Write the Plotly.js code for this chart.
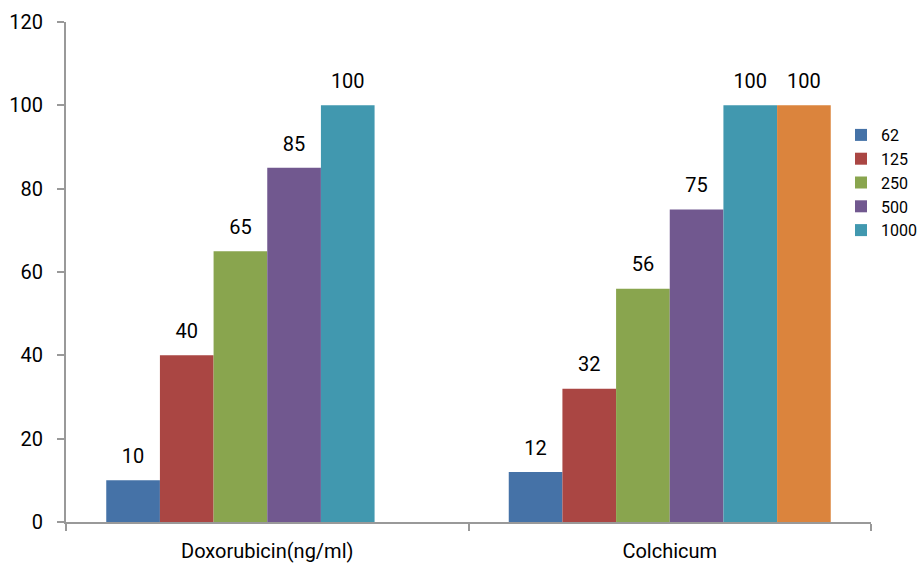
<!DOCTYPE html>
<html>
<head>
<meta charset="utf-8">
<script src="https://cdn.plot.ly/plotly-3.0.1.min.js"></script>
<style>
  html, body { margin: 0; padding: 0; background: #fff; }
  #chart { width: 921px; height: 563px; }
</style>
</head>
<body>
<div id="chart"></div>
<script>
// Treatment groups on the x axis
const categories = ['Doxorubicin(ng/ml)', 'Colchicum'];

// Concentration series (one bar per concentration in each group)
const seriesNames = ['62', '125', '250', '500', '1000', '2000'];
const values62   = [10, 12];
const values125  = [40, 32];
const values250  = [65, 56];
const values500  = [85, 75];
const values1000 = [100, 100];
const values2000 = [null, 100];

const seriesValues = [values62, values125, values250, values500, values1000, values2000];
const seriesColors = ['#4572A7', '#AA4643', '#89A54E', '#71588F', '#4198AF', '#DB843D'];
const inLegend = [true, true, true, true, true, false];

const FONT = 'Roboto, "Liberation Sans", sans-serif';

// Bars
const barTraces = seriesValues.map((vals, i) => ({
  type: 'bar',
  name: seriesNames[i],
  x: categories,
  y: vals,
  offsetgroup: String(i),
  legendgroup: 'g' + i,
  marker: { color: seriesColors[i], line: { width: 0 } },
  showlegend: inLegend[i],
  hoverinfo: 'x+y+name'
}));

// Value labels, grouped the same way as the bars so each sits over its bar;
// the invisible marker only spaces the text away from the bar top
const labelTraces = seriesValues.map((vals, i) => ({
  type: 'scatter',
  mode: 'markers+text',
  name: seriesNames[i] + ' label',
  x: categories,
  y: vals,
  offsetgroup: String(i),
  marker: { size: 18, opacity: 0 },
  text: vals.map(v => (v === null ? '' : String(v))),
  textposition: 'top center',
  textfont: { family: FONT, size: 20, color: '#000' },
  cliponaxis: false,
  showlegend: false,
  hoverinfo: 'skip'
}));

const layout = {
  width: 921,
  height: 563,
  margin: { l: 66, r: 50, t: 22, b: 41, pad: 0, autoexpand: false },
  paper_bgcolor: '#ffffff',
  plot_bgcolor: '#ffffff',
  barmode: 'group',
  bargap: 0.2,
  bargroupgap: 0,
  scattermode: 'group',
  scattergap: 0.2,
  font: { family: FONT, size: 20, color: '#000' },
  xaxis: {
    type: 'category',
    showgrid: false,
    showline: true,
    linecolor: '#999999',
    linewidth: 2,
    ticks: 'outside',
    tickson: 'boundaries',
    ticklen: 7,
    tickwidth: 2,
    tickcolor: '#999999',
    tickfont: { family: FONT, size: 20, color: '#000' },
    ticklabelstandoff: 10,
    automargin: false,
    zeroline: false
  },
  yaxis: {
    range: [0, 120],
    dtick: 20,
    tick0: 0,
    showgrid: false,
    showline: true,
    linecolor: '#999999',
    linewidth: 2,
    ticks: 'outside',
    ticklen: 7,
    tickwidth: 2,
    tickcolor: '#999999',
    tickfont: { family: FONT, size: 20, color: '#000' },
    ticklabelstandoff: 10,
    automargin: false,
    zeroline: false
  },
  legend: {
    xref: 'container',
    yref: 'container',
    x: 841 / 921,
    xanchor: 'left',
    y: 1 - 118 / 563,
    yanchor: 'top',
    itemwidth: 30,
    tracegroupgap: 1,
    font: { family: FONT, size: 16, color: '#000' },
    bgcolor: 'rgba(0,0,0,0)',
    traceorder: 'normal'
  },
  showlegend: true
};

Plotly.newPlot('chart', barTraces.concat(labelTraces), layout, { displayModeBar: false, staticPlot: true });
</script>
</body>
</html>
